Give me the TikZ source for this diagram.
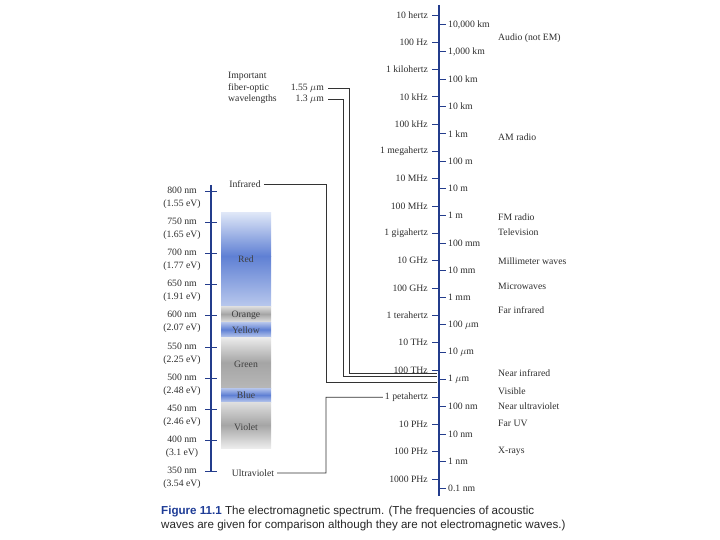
\documentclass[tikz,border=0pt]{standalone}
\usepackage{fontspec}
\setmainfont{Liberation Serif}
\newfontfamily\capfont{Liberation Sans}
\usetikzlibrary{calc}
\definecolor{axisblue}{RGB}{35,60,140}
\definecolor{bandblue}{RGB}{95,128,212}
\definecolor{lightband}{RGB}{222,230,247}
\definecolor{bandgray}{RGB}{165,165,165}
\definecolor{lightgraytwo}{RGB}{224,224,224}
\definecolor{txt}{RGB}{45,45,45}
\definecolor{capblue}{RGB}{30,60,150}
\begin{document}
\begin{tikzpicture}[x=1pt,y=-1pt,
  lbl/.style={font=\fontsize{9.7}{11.5}\selectfont, text=txt, inner sep=0pt},
  axisline/.style={draw=axisblue, line width=1.6pt},
  tickmark/.style={draw=axisblue, line width=0.8pt},
  conn/.style={draw=black!80, line width=0.6pt},
  bandlbl/.style={lbl, text=black!75}]
\useasboundingbox (0,0) rectangle (720,540);

% main axis
\draw[axisline] (439,5) -- (439,496);
\foreach \t [count=\i from 0] in {10 hertz,100 Hz,1 kilohertz,10 kHz,100 kHz,1 megahertz,10 MHz,100 MHz,1 gigahertz,10 GHz,100 GHz,1 terahertz,10 THz,100 THz,1 petahertz,10 PHz,100 PHz,1000 PHz}{
  \draw[tickmark] (432,{15+27.3*\i}) -- (439,{15+27.3*\i});
  \node[lbl, anchor=east] (f\i) at (428,{15+27.3*\i}) {\t};
}
\foreach \t [count=\i from 0] in {{10,000 km},{1,000 km},100 km,10 km,1 km,100 m,10 m,1 m,100 mm,10 mm,1 mm,100 $\mu$m,10 $\mu$m,1 $\mu$m,100 nm,10 nm,1 nm,0.1 nm}{
  \draw[tickmark] (439,{24.5+27.3*\i}) -- (446,{24.5+27.3*\i});
  \node[lbl, anchor=west] (w\i) at (448,{24.5+27.3*\i}) {\t};
}

% descriptions
\node[lbl, anchor=west] (d1) at (498,38) {Audio (not EM)};
\node[lbl, anchor=west] (d2) at (498,137) {AM radio};
\node[lbl, anchor=west] (d3) at (498,217) {FM radio};
\node[lbl, anchor=west] (d4) at (498,232) {Television};
\node[lbl, anchor=west] (d5) at (498,261) {Millimeter waves};
\node[lbl, anchor=west] (d6) at (498,286) {Microwaves};
\node[lbl, anchor=west] (d7) at (498,310) {Far infrared};
\node[lbl, anchor=west] (d8) at (498,373) {Near infrared};
\node[lbl, anchor=west] (d9) at (498,391) {Visible};
\node[lbl, anchor=west] (d10) at (498,406) {Near ultraviolet};
\node[lbl, anchor=west] (d11) at (498,423) {Far UV};
\node[lbl, anchor=west] (d12) at (498,451) {X-rays};

% visible scale
\draw[axisline, line width=1.2pt] (211,185) -- (211,472);
\foreach \nm/\ev [count=\j from 0] in {800/1.55,750/1.65,700/1.77,650/1.91,600/2.07,550/2.25,500/2.48,450/2.46,400/3.1,350/3.54}{
  \draw[tickmark] (205,{191+31.2*\j}) -- (217,{191+31.2*\j});
  \node[lbl, align=center, font=\fontsize{9.7}{13}\selectfont] (v\j) at (182,{197.5+31.2*\j}) {\nm{} nm\\(\ev{} eV)};
}

% colour bands
\shade[top color=lightband, bottom color=bandblue] (221,213) rectangle (271,256);
\shade[top color=bandblue, bottom color=lightband!70!bandblue] (221,256) rectangle (271,306);
\shade[top color=lightgraytwo, bottom color=lightgraytwo, middle color=bandgray] (221,306) rectangle (271,322);
\shade[top color=bandblue!45, bottom color=bandblue!45, middle color=bandblue] (221,322) rectangle (271,337);
\shade[top color=lightgraytwo!60, bottom color=bandgray!80, middle color=bandgray] (221,337) rectangle (271,388);
\shade[top color=bandblue!45, bottom color=bandblue!45, middle color=bandblue] (221,388) rectangle (271,402);
\shade[top color=lightgraytwo, bottom color=lightgraytwo!60, middle color=bandgray] (221,402) rectangle (271,448);
\node[bandlbl] (cred) at (246,259) {Red};
\node[bandlbl] (corange) at (246,315) {Orange};
\node[bandlbl] (cyellow) at (246,330) {Yellow};
\node[bandlbl] (cgreen) at (246,364) {Green};
\node[bandlbl] (cblue) at (246,395) {Blue};
\node[bandlbl] (cviolet) at (246,427) {Violet};

\node[lbl] (ir) at (245,184) {Infrared};
\node[lbl] (uv) at (253,473) {Ultraviolet};

% fiber optic
\node[lbl, align=left, anchor=west] (fibtxt) at (228,88) {Important\\fiber-optic\\wavelengths};
\node[lbl, anchor=east] (fib155) at (324,88) {1.55 $\mu$m};
\node[lbl, anchor=east] (fib13) at (324,99) {1.3 $\mu$m};

% connectors
\coordinate (e155) at (437,373);
\coordinate (e13) at (437,376);
\coordinate (eir) at (437,382);
\draw[conn] ([xshift=4pt]fib155.east) -| (349,373) -- (e155);
\draw[conn] ([xshift=4pt]fib13.east) -| (343,376) -- (e13);
\draw[conn] ([xshift=3pt]ir.east) -| (326,382) -- (eir);
\draw[conn] ([xshift=3pt]uv.east) -| (326,397.2) -- ([xshift=-2pt]f14.west);

% caption
\node[anchor=north west, inner sep=0pt, align=left, text=black!85,
  font=\capfont\fontsize{11.6}{13.5}\selectfont] (cap) at (161,506)
  {\textcolor{capblue}{\textbf{Figure 11.1}} The electromagnetic spectrum. (The frequencies of acoustic\\waves are given for comparison although they are not electromagnetic waves.)};
\end{tikzpicture}
\end{document}
